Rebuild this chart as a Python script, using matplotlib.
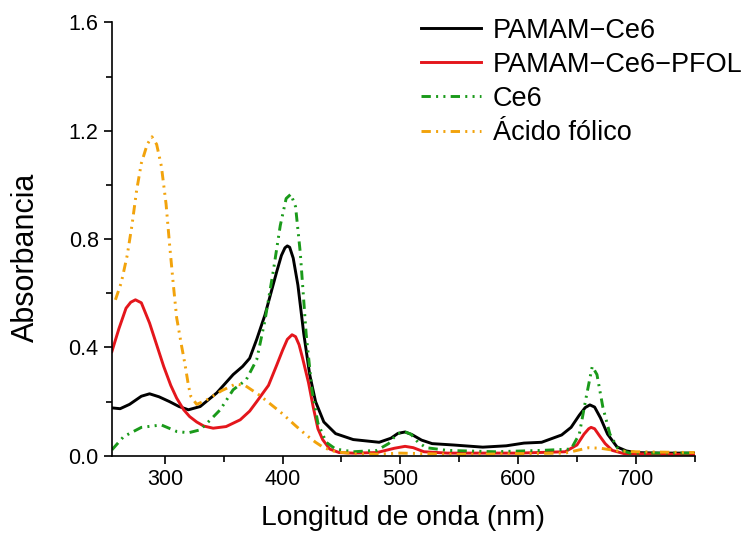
import matplotlib
matplotlib.use("Agg")
import matplotlib.pyplot as plt
from matplotlib.ticker import MultipleLocator

plt.rcParams['font.family'] = ['Liberation Sans', 'DejaVu Sans']

# spectra (wavelength nm, absorbance)
wl_pamam = [255, 262, 270, 280, 287, 295, 304, 312, 320, 330, 344, 358, 366, 372,
            378, 385, 390, 395, 399, 402, 404, 406, 409, 413, 418, 423, 428, 435,
            445, 460, 482, 492, 498, 504, 510, 518, 527, 545, 570, 590, 605, 620,
            637, 645, 652, 657, 661, 665, 670, 676, 684, 692, 700, 720, 750]
abs_pamam = [0.177, 0.174, 0.19, 0.22, 0.229, 0.218, 0.2, 0.182, 0.17, 0.182, 0.232,
             0.3, 0.33, 0.36, 0.43, 0.52, 0.6, 0.68, 0.74, 0.768, 0.775, 0.77, 0.73,
             0.63, 0.45, 0.3, 0.2, 0.125, 0.082, 0.06, 0.05, 0.065, 0.083, 0.088,
             0.078, 0.058, 0.045, 0.04, 0.032, 0.037, 0.047, 0.05, 0.077, 0.105,
             0.15, 0.178, 0.188, 0.18, 0.14, 0.08, 0.033, 0.018, 0.012, 0.01, 0.01]

wl_pfol = [255, 261, 267, 271, 275, 280, 287, 293, 299, 305, 310, 316, 321, 327,
           333, 341, 352, 364, 372, 378, 388, 395, 400, 404, 408, 411, 414, 417,
           422, 426, 430, 434, 440, 448, 460, 480, 495, 504, 511, 520, 540, 600,
           640, 650, 656, 660, 662, 665, 669, 674, 680, 690, 750]
abs_pfol = [0.385, 0.47, 0.545, 0.567, 0.576, 0.565, 0.49, 0.41, 0.33, 0.26, 0.213,
            0.17, 0.145, 0.125, 0.11, 0.102, 0.108, 0.133, 0.165, 0.2, 0.26, 0.335,
            0.39, 0.43, 0.447, 0.44, 0.41, 0.36, 0.27, 0.18, 0.1, 0.06, 0.025,
            0.012, 0.01, 0.012, 0.028, 0.035, 0.03, 0.015, 0.01, 0.01, 0.015, 0.04,
            0.08, 0.1, 0.105, 0.1, 0.075, 0.045, 0.02, 0.008, 0.005]

wl_ce6 = [255, 265, 280, 297, 310, 320, 330, 338, 347, 358, 369, 378, 385, 392,
          398, 403, 407, 411, 415, 420, 425, 430, 437, 445, 460, 480, 490, 497,
          503, 509, 515, 522, 540, 580, 620, 645, 652, 658, 663, 667, 672, 678,
          685, 695, 750]
abs_ce6 = [0.022, 0.071, 0.105, 0.114, 0.09, 0.085, 0.096, 0.13, 0.17, 0.244, 0.28,
           0.355, 0.5, 0.68, 0.85, 0.95, 0.966, 0.92, 0.75, 0.45, 0.24, 0.12, 0.05,
           0.025, 0.015, 0.02, 0.045, 0.08, 0.09, 0.08, 0.05, 0.03, 0.02, 0.015,
           0.02, 0.025, 0.08, 0.22, 0.33, 0.3, 0.18, 0.08, 0.025, 0.01, 0.01]

wl_af = [258, 263, 268, 272, 276, 280, 285, 289, 293, 297, 301, 304, 307, 310,
         314, 317, 320, 322, 327, 335, 348, 360, 368, 380, 390, 400, 410, 420,
         428, 435, 445, 460, 480, 500, 550, 600, 640, 650, 660, 670, 685, 700, 750]
abs_af = [0.576, 0.64, 0.74, 0.85, 0.98, 1.08, 1.15, 1.178, 1.15, 1.07, 0.93, 0.78,
          0.64, 0.51, 0.41, 0.34, 0.26, 0.22, 0.19, 0.205, 0.24, 0.265, 0.26, 0.225,
          0.19, 0.155, 0.115, 0.077, 0.05, 0.03, 0.015, 0.008, 0.006, 0.01, 0.005,
          0.008, 0.01, 0.02, 0.03, 0.028, 0.018, 0.015, 0.012]

labels = ['PAMAM\u2212Ce6', 'PAMAM\u2212Ce6\u2212PFOL', 'Ce6', '\u00c1cido f\u00f3lico']

dashdotdot = (0, (3.2, 1.8, 0.7, 1.8, 0.7, 1.8))

fig = plt.figure(figsize=(7.51, 5.35), dpi=100)
ax = fig.add_axes([0.149, 0.148, 0.776, 0.81])

ax.plot(wl_pamam, abs_pamam, color='black', lw=2.1, label=labels[0])
ax.plot(wl_pfol, abs_pfol, color='#e4161c', lw=2.1, label=labels[1])
ax.plot(wl_ce6, abs_ce6, color='#1a9a1a', lw=2.1, linestyle=dashdotdot, label=labels[2])
ax.plot(wl_af, abs_af, color='#f2a30c', lw=2.1, linestyle=dashdotdot, label=labels[3])

ax.set_xlim(255, 750)
ax.set_ylim(0, 1.6)
ax.xaxis.set_major_locator(MultipleLocator(100))
ax.xaxis.set_minor_locator(MultipleLocator(50))
ax.yaxis.set_major_locator(MultipleLocator(0.4))
ax.yaxis.set_minor_locator(MultipleLocator(0.2))
ax.yaxis.set_major_formatter(plt.FuncFormatter(lambda v, p: f"{v:.1f}"))

for s in ['top', 'right']:
    ax.spines[s].set_visible(False)
for s in ['left', 'bottom']:
    ax.spines[s].set_linewidth(1.2)

ax.tick_params(which='major', direction='out', length=6, width=1.2, labelsize=15.5)
ax.tick_params(which='minor', direction='out', length=4, width=1.2)

ax.set_xlabel('Longitud de onda (nm)', fontsize=20.3, labelpad=11)
ax.set_ylabel('Absorbancia', fontsize=22, labelpad=20)
ax.yaxis.label.set_y(0.457)

ax.legend(loc='upper left', bbox_to_anchor=(0.531, 1.011), frameon=False,
          fontsize=19.5, handlelength=2.2, handletextpad=0.45, labelspacing=0.3,
          borderpad=0, borderaxespad=0)

fig.savefig('out.png', dpi=100)
